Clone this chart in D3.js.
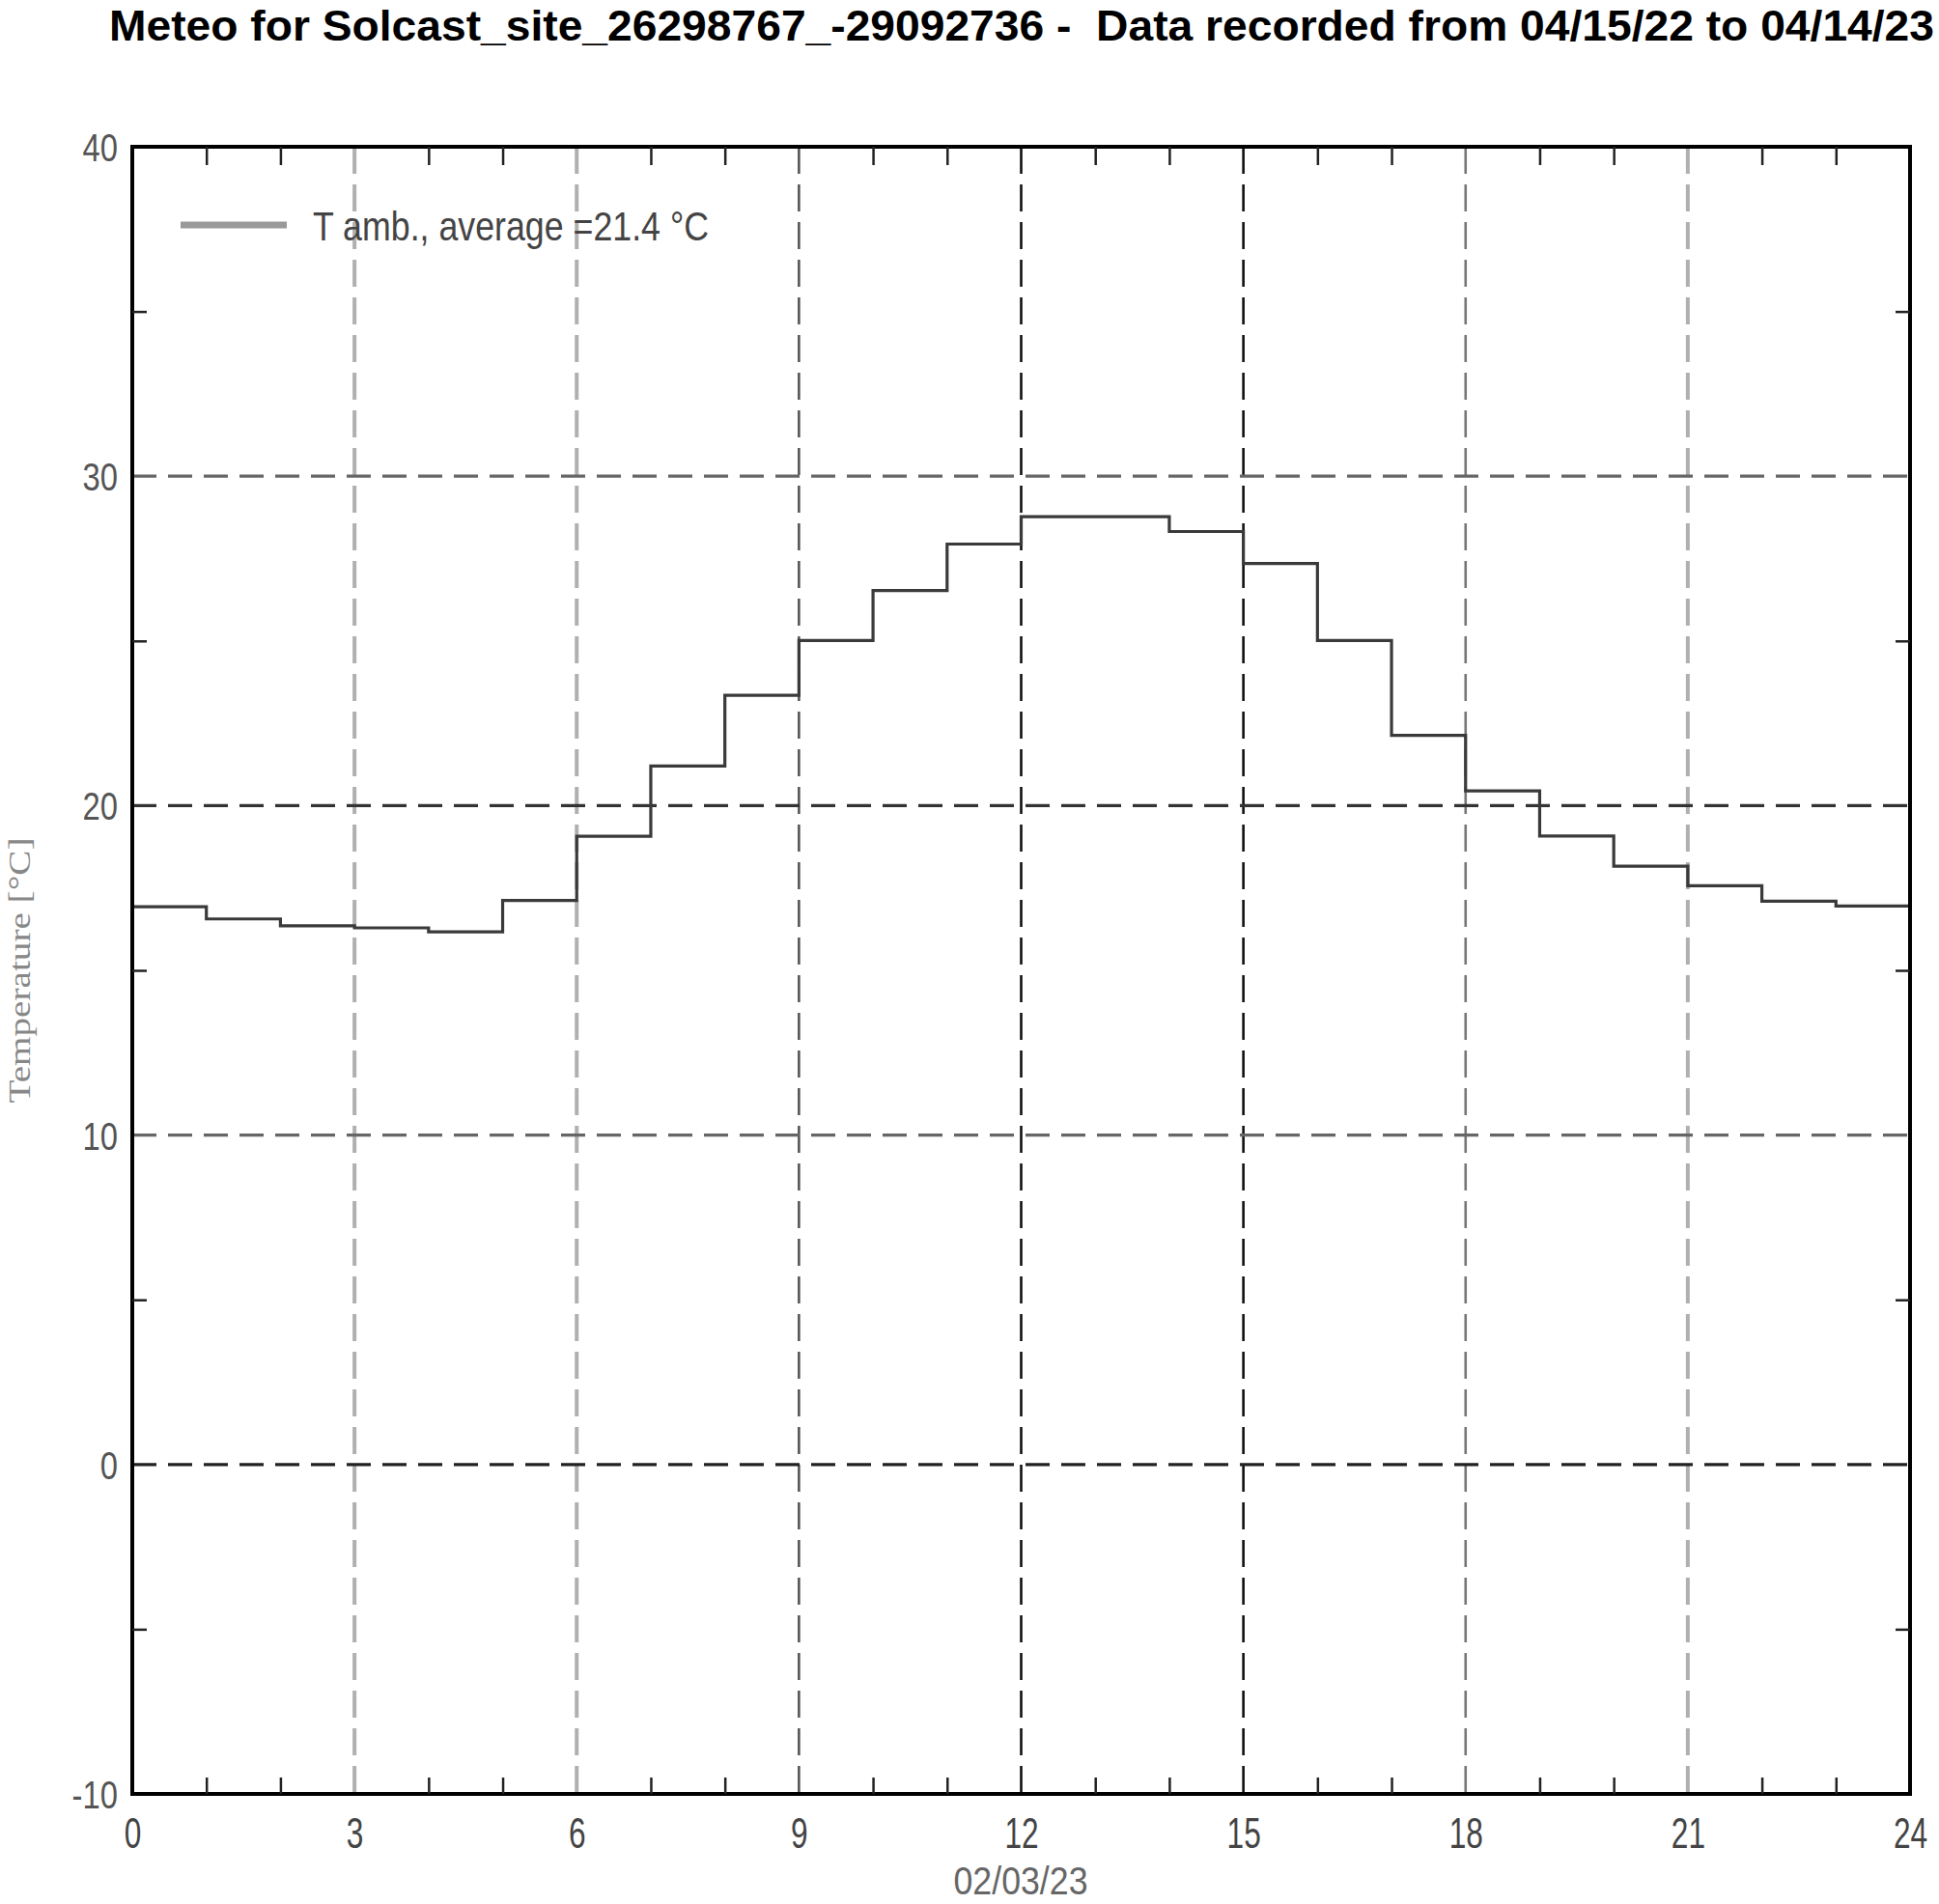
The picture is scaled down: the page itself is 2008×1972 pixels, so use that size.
<!DOCTYPE html>
<html><head><meta charset="utf-8">
<script src="https://cdn.jsdelivr.net/npm/d3@7"></script>
<style>html,body{margin:0;padding:0;background:#fff;} svg{display:block;} .pre{white-space:pre;}</style>
</head><body><svg id="chart" width="2008" height="1972"></svg>
<script>
const title = "Meteo for Solcast_site_26298767_-29092736 -  Data recorded from 04/15/22 to 04/14/23";
const hours = [0,1,2,3,4,5,6,7,8,9,10,11,12,13,14,15,16,17,18,19,20,21,22,23];
const tempAmb = [16.93,16.56,16.35,16.29,16.17,17.12,19.07,21.2,23.35,25.01,26.53,27.94,28.77,28.77,28.32,27.35,25.01,22.13,20.45,19.08,18.16,17.57,17.1,16.95];
const xTickValues = [0,3,6,9,12,15,18,21,24];
const xTickLabels = ["0","3","6","9","12","15","18","21","24"];
const yTickValues = [-10,0,10,20,30,40];
const yTickLabels = ["-10","0","10","20","30","40"];
const xGridValues = [3,6,9,12,15,18,21];
const yGridValues = [0,10,20,30];
const xMinorTicks = [1,2,4,5,7,8,10,11,13,14,16,17,19,20,22,23];
const yMinorTicks = [-5,5,15,25,35];
const legendLabel = "T amb., average =21.4 °C";
const xAxisLabel = "02/03/23";
const yAxisLabel = "Temperature [°C]";

const svg = d3.select("#chart");
svg.append("rect").attr("width",2008).attr("height",1972).attr("fill","#fff");
const L=137, R=1978, T=152, B=1858;
const x = d3.scaleLinear().domain([0,24]).range([L,R]);
const y = d3.scaleLinear().domain([-10,40]).range([B,T]);

// title
svg.append("text").attr("class","pre").attr("x",113).attr("y",42)
  .attr("font-family","Liberation Sans, Arial, sans-serif").attr("font-weight","bold")
  .attr("font-size",45).attr("fill","#000")
  .attr("textLength",1890).attr("lengthAdjust","spacingAndGlyphs")
  .text(title);

// grid
const vColor = h => ({3:"#b0b0b0",6:"#b0b0b0",9:"#555",12:"#111",15:"#111",18:"#777",21:"#b0b0b0"})[h];
const vWidth = h => ([3,6,21].includes(h) ? 4 : 2.6);
svg.append("g").selectAll("line").data(xGridValues).join("line")
  .attr("x1",d=>x(d)).attr("x2",d=>x(d)).attr("y1",T).attr("y2",B)
  .attr("stroke",vColor).attr("stroke-width",vWidth).attr("stroke-dasharray","28,11");
const hColor = v => ({0:"#222",10:"#666",20:"#333",30:"#666"})[v];
svg.append("g").selectAll("line").data(yGridValues).join("line")
  .attr("x1",L).attr("x2",R).attr("y1",d=>y(d)).attr("y2",d=>y(d))
  .attr("stroke",hColor).attr("stroke-width",3.2).attr("stroke-dasharray","25,12");

// series (step)
const pts = hours.map((h,i)=>[h,tempAmb[i]]);
pts.push([24, tempAmb[tempAmb.length-1]]);
const line = d3.line().x(d=>x(d[0])).y(d=>y(d[1])).curve(d3.curveStepAfter);
svg.append("path").datum(pts).attr("d",line).attr("fill","none")
  .attr("stroke","#3a3a3a").attr("stroke-width",3.2);

// frame
svg.append("rect").attr("x",L).attr("y",T).attr("width",R-L).attr("height",B-T)
  .attr("fill","none").attr("stroke","#000").attr("stroke-width",4);

// minor ticks
function styleTicks(g){ g.select(".domain").remove(); g.selectAll("line").attr("stroke","#222").attr("stroke-width",2.5); g.selectAll("text").remove(); }
svg.append("g").attr("transform",`translate(0,${B})`).call(d3.axisBottom(x).tickValues(xMinorTicks).tickSize(-17).tickFormat("")).call(styleTicks);
svg.append("g").attr("transform",`translate(0,${T})`).call(d3.axisTop(x).tickValues(xMinorTicks).tickSize(-19).tickFormat("")).call(styleTicks);
svg.append("g").attr("transform",`translate(${L},0)`).call(d3.axisLeft(y).tickValues(yMinorTicks).tickSize(-15).tickFormat("")).call(styleTicks);
svg.append("g").attr("transform",`translate(${R},0)`).call(d3.axisRight(y).tickValues(yMinorTicks).tickSize(-15).tickFormat("")).call(styleTicks);

// x tick labels
const sx = 0.72;
const gx = svg.append("g").attr("transform",`translate(0,${B})`)
  .call(d3.axisBottom(x).tickValues(xTickValues).tickFormat((d,i)=>xTickLabels[i]).tickSize(0).tickPadding(25));
gx.select(".domain").remove();
gx.selectAll("text").attr("font-family","Liberation Sans, Arial, sans-serif").attr("font-size",44)
  .attr("fill","#444").attr("transform",`scale(${sx},1)`);

// y tick labels
const sy = 0.82;
const gy = svg.append("g").attr("transform",`translate(${L},0)`)
  .call(d3.axisLeft(y).tickValues(yTickValues).tickFormat((d,i)=>yTickLabels[i]).tickSize(0).tickPadding(15));
gy.select(".domain").remove();
gy.selectAll("text").attr("font-family","Liberation Sans, Arial, sans-serif").attr("font-size",40)
  .attr("fill","#555").attr("x",-15/sy).attr("dy","0.36em").attr("transform",`scale(${sy},1)`);

// axis labels
svg.append("text").attr("x",1057).attr("y",1962).attr("text-anchor","middle")
  .attr("font-family","Liberation Sans, Arial, sans-serif").attr("font-size",40).attr("fill","#666")
  .attr("textLength",139).attr("lengthAdjust","spacingAndGlyphs").text(xAxisLabel);
svg.append("text").attr("transform","translate(31,1005) rotate(-90)").attr("text-anchor","middle")
  .attr("font-family","Liberation Serif, Times New Roman, serif").attr("font-size",31).attr("fill","#888")
  .attr("textLength",275).attr("lengthAdjust","spacingAndGlyphs").text(yAxisLabel);

// legend
svg.append("line").attr("x1",187).attr("x2",297).attr("y1",233).attr("y2",233)
  .attr("stroke","#999").attr("stroke-width",7);
svg.append("text").attr("x",324).attr("y",249)
  .attr("font-family","Liberation Sans, Arial, sans-serif").attr("font-size",42).attr("fill","#444")
  .attr("textLength",410).attr("lengthAdjust","spacingAndGlyphs").text(legendLabel);
</script>
</body></html>
